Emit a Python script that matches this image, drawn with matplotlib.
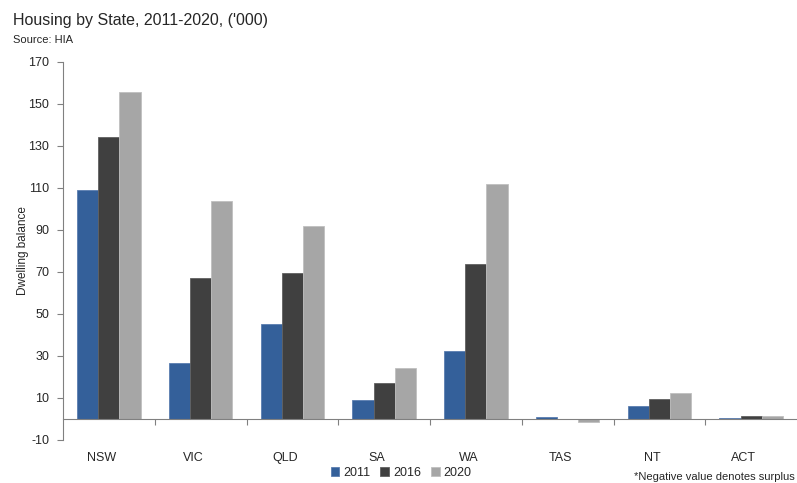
import matplotlib
matplotlib.use("Agg")
import matplotlib.pyplot as plt
from matplotlib import font_manager
import numpy as np

states = ["NSW", "VIC", "QLD", "SA", "WA", "TAS", "NT", "ACT"]
years = ["2011", "2016", "2020"]
v2011 = [109.0, 26.8, 45.2, 8.9, 32.4, 0.9, 6.0, 0.4]
v2016 = [134.1, 67.1, 69.5, 17.1, 74.0, 0.1, 9.5, 1.6]
v2020 = [155.6, 103.9, 91.9, 24.4, 111.9, -1.2, 12.6, 1.5]
yticks = [-10, 10, 30, 50, 70, 90, 110, 130, 150, 170]

colors = ["#34609A", "#404040", "#A6A6A6"]
edges = ["#5A7DB0", "#606060", "#C0C0C0"]

names = {f.name for f in font_manager.fontManager.ttflist}
fam = "Liberation Sans Narrow" if "Liberation Sans Narrow" in names else "Liberation Sans"
plt.rcParams["font.family"] = [fam, "DejaVu Sans"]
plt.rcParams["axes.unicode_minus"] = False

fig = plt.figure(figsize=(7.97, 4.83), dpi=100)
ax = fig.add_axes([63 / 797, 43 / 483, 734 / 797, 378 / 483])

x = np.arange(len(states))
w = 0.23
for i, (vals, c, ec) in enumerate(zip([v2011, v2016, v2020], colors, edges)):
    ax.bar(x + (i - 1) * w, vals, width=w, color=c, edgecolor=ec,
           linewidth=0.6, label=years[i], zorder=2)

ax.set_xlim(-0.5, len(states) - 0.5)
ax.set_ylim(-10, 170)
ax.set_yticks(yticks)
ax.tick_params(axis="y", direction="out", length=4, color="#808080",
               labelsize=9, labelcolor="#262626", pad=6)

for s in ["top", "right"]:
    ax.spines[s].set_visible(False)
ax.spines["left"].set_color("#808080")
ax.spines["bottom"].set_position(("data", 0))
ax.spines["bottom"].set_color("#808080")

ax.set_xticks(np.arange(0.5, len(states) - 0.5, 1.0))
ax.set_xticklabels([])
ax.tick_params(axis="x", direction="out", length=4, color="#808080")
for xi, s in zip(x, states):
    ax.text(xi - 0.08, -0.048, s, transform=ax.get_xaxis_transform(),
            ha="center", va="center", fontsize=9, color="#262626")

ax.set_ylabel("Dwelling balance", fontsize=8.5, color="#262626")
ax.yaxis.set_label_coords(-0.047, 0.5)

fig.text(13 / 797, 1 - 20 / 483, "Housing by State, 2011-2020, ('000)",
         fontsize=11.5, color="#262626", ha="left", va="center")
fig.text(13 / 797, 1 - 40 / 483, "Source: HIA", fontsize=8,
         color="#262626", ha="left", va="center")

fig.legend(loc="center", bbox_to_anchor=(401 / 797, 1 - 473 / 483),
           ncol=3, frameon=False, fontsize=9, handlelength=0.7,
           handleheight=0.7, handletextpad=0.3, columnspacing=0.8,
           labelcolor="#262626")

fig.text(795 / 797, 1 - 477 / 483, "*Negative value denotes surplus",
         fontsize=8, color="#262626", ha="right", va="center")

fig.savefig("out.png", dpi=100)
